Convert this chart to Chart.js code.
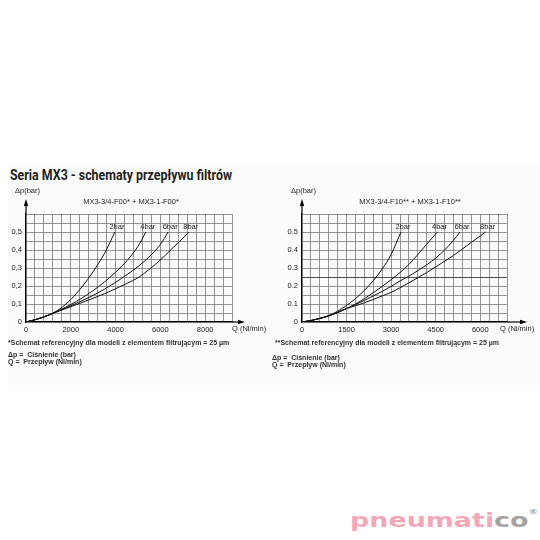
<!DOCTYPE html>
<html>
<head>
<meta charset="utf-8">
<script src="https://cdn.jsdelivr.net/npm/chart.js@4"></script>
<style>
  body { margin: 0; width: 540px; height: 540px; background: #fff; position: relative; overflow: hidden; font-family: "Liberation Sans", Arial, sans-serif; }
  .abs { position: absolute; white-space: nowrap; }
  #band { left: 8px; top: 163px; width: 532px; height: 222px; background: #fbfbfc; }
  #title { left: 10px; top: 166px; font: bold 15px Roboto, sans-serif; color: #1e1e1e; transform-origin: 0 0; }
  .note { font: bold 7px "Liberation Sans Narrow", "Liberation Sans", sans-serif; color: #333; }
  canvas { position: absolute; }
  #logo { left: 350px; top: 508px; font: bold 20px "DejaVu Sans", sans-serif; transform-origin: 0 0; }
</style>
</head>
<body>
<div id="band" class="abs"></div>
<div id="title" class="abs">Seria MX3 - schematy przepływu filtrów</div>
<canvas id="wykresIzq" width="270" height="170" style="left:0;top:180px"></canvas>
<canvas id="wykresDer" width="270" height="170" style="left:270px;top:180px"></canvas>

<div class="abs note" style="left:8px;top:339px">*Schemat referencyjny dla modeli z elementem filtrującym = 25 µm</div>
<div class="abs note" style="left:8px;top:351px">Δp =&nbsp; Ciśnienie (bar)</div>
<div class="abs note" style="left:8px;top:358px">Q =&nbsp; Przepływ (Nl/min)</div>
<div class="abs note" style="left:275px;top:339px">**Schemat referencyjny dla modeli z elementem filtrującym = 25 µm</div>
<div class="abs note" style="left:272px;top:354px">Δp =&nbsp; Ciśnienie (bar)</div>
<div class="abs note" style="left:272px;top:361px">Q =&nbsp; Przepływ (Nl/min)</div>

<div id="logo" class="abs"><span style="color:#f4a7b7">pneumati</span><span style="color:#a3a3a3">co</span><span style="color:#a3a3a3;font-size:7px;vertical-align:top">®</span></div>

<script>
// etykiety krzywych
const etiquetas = ["2bar", "4bar", "6bar", "8bar"];

// wykres lewy: MX3-3/4-F00* + MX3-1-F00*
const izqTicksX = [0, 2000, 4000, 6000, 8000];
const izqQ2 = [0, 500, 1000, 1500, 2000, 2500, 3000, 3500, 3970];
const izqDp2 = [0, 0.016, 0.038, 0.072, 0.125, 0.195, 0.28, 0.38, 0.5];
const izqQ4 = [0, 500, 1000, 1500, 2000, 2500, 3000, 3500, 4000, 4500, 5000, 5350];
const izqDp4 = [0, 0.016, 0.038, 0.066, 0.097, 0.133, 0.175, 0.222, 0.277, 0.34, 0.42, 0.5];
const izqQ6 = [0, 500, 1000, 1500, 2000, 2500, 3000, 3500, 4000, 4500, 5000, 5500, 6000, 6350];
const izqDp6 = [0, 0.016, 0.038, 0.064, 0.09, 0.118, 0.148, 0.182, 0.22, 0.262, 0.308, 0.362, 0.43, 0.5];
const izqQ8 = [0, 500, 1000, 1500, 2000, 2500, 3000, 3500, 4000, 4500, 5000, 5500, 6000, 6500, 7000, 7270];
const izqDp8 = [0, 0.016, 0.038, 0.062, 0.085, 0.108, 0.132, 0.157, 0.185, 0.214, 0.246, 0.292, 0.345, 0.405, 0.465, 0.5];

// wykres prawy: MX3-3/4-F10** + MX3-1-F10**
const derTicksX = [0, 1500, 3000, 4500, 6000];
const derQ2 = [0, 300, 600, 900, 1200, 1500, 1800, 2100, 2400, 2700, 3000, 3330];
const derDp2 = [0, 0.008, 0.02, 0.036, 0.06, 0.092, 0.13, 0.176, 0.23, 0.295, 0.375, 0.5];
const derQ4 = [0, 300, 600, 900, 1200, 1500, 1800, 2100, 2400, 2700, 3000, 3300, 3600, 3900, 4200, 4500, 4560];
const derDp4 = [0, 0.008, 0.02, 0.034, 0.053, 0.075, 0.1, 0.13, 0.163, 0.198, 0.235, 0.275, 0.32, 0.375, 0.432, 0.49, 0.5];
const derQ6 = [0, 300, 600, 900, 1200, 1500, 1800, 2100, 2400, 2700, 3000, 3300, 3600, 3900, 4200, 4500, 4800, 5100, 5320];
const derDp6 = [0, 0.008, 0.02, 0.034, 0.053, 0.075, 0.097, 0.12, 0.145, 0.17, 0.198, 0.228, 0.255, 0.285, 0.318, 0.355, 0.4, 0.455, 0.5];
const derQ8 = [0, 300, 600, 900, 1200, 1500, 1800, 2100, 2400, 2700, 3000, 3300, 3600, 3900, 4200, 4500, 4800, 5100, 5400, 5700, 6000, 6180];
const derDp8 = [0, 0.008, 0.02, 0.034, 0.053, 0.075, 0.09, 0.107, 0.125, 0.145, 0.165, 0.19, 0.218, 0.246, 0.275, 0.306, 0.338, 0.37, 0.405, 0.443, 0.478, 0.5];

const fuenteCad = '"Liberation Sans Narrow", "Liberation Sans", sans-serif';

function puntos(qs, dps) {
  return qs.map((q, i) => ({ x: q, y: dps[i] }));
}

function flecha(ctx, x1, y1, x2, y2) {
  const ang = Math.atan2(y2 - y1, x2 - x1);
  ctx.beginPath();
  ctx.moveTo(x1, y1);
  ctx.lineTo(x2 - 5 * Math.cos(ang), y2 - 5 * Math.sin(ang));
  ctx.stroke();
  ctx.beginPath();
  ctx.moveTo(x2, y2);
  ctx.lineTo(x2 - 7 * Math.cos(ang) + 2.2 * Math.sin(ang), y2 - 7 * Math.sin(ang) - 2.2 * Math.cos(ang));
  ctx.lineTo(x2 - 7 * Math.cos(ang) - 2.2 * Math.sin(ang), y2 - 7 * Math.sin(ang) + 2.2 * Math.cos(ang));
  ctx.closePath();
  ctx.fill();
}

const decoracion = {
  id: "decoracion",
  afterDraw(chart, args, o) {
    const { ctx, chartArea: a } = chart;
    ctx.save();
    ctx.strokeStyle = "#000";
    ctx.fillStyle = "#000";
    ctx.lineWidth = 1.2;
    flecha(ctx, a.left, a.top, a.left, a.top - 15);
    flecha(ctx, a.right, a.bottom, a.right + o.flechaX, a.bottom);

    ctx.fillStyle = "#222";
    ctx.font = "7.5px " + fuenteCad;
    ctx.textBaseline = "middle";
    ctx.textAlign = "left";
    ctx.fillText("Δp(bar)", a.left - 11, a.top - 23);
    ctx.fillText("Q (Nl/min)", a.right + o.qX, a.bottom + 7);
    ctx.textAlign = "center";
    ctx.fillText(o.subtitulo, o.subX, a.top - 12);

    ctx.textBaseline = "bottom";
    chart.data.datasets.forEach((ds) => {
      const p = ds.data[ds.data.length - 1];
      const x = chart.scales.x.getPixelForValue(p.x);
      const y = chart.scales.y.getPixelForValue(p.y);
      ctx.fillText(ds.label, x + 2, y - 1);
    });
    ctx.restore();
  }
};

function crearGrafico(id, series, ticksX, paso, maxX, sep, cfg) {
  const datasets = series.map((s, i) => ({
    label: etiquetas[i],
    data: puntos(s[0], s[1]),
    borderColor: "#111",
    borderWidth: 1,
    pointRadius: 0,
    cubicInterpolationMode: "monotone",
    fill: false
  }));

  const fuerte = (c) => cfg.lineaFuerte && Math.round(c.tick.value * 100) === 25;

  return new Chart(document.getElementById(id), {
    type: "line",
    data: { datasets: datasets },
    plugins: [decoracion],
    options: {
      responsive: false,
      animation: false,
      devicePixelRatio: 1,
      layout: { padding: { left: 0, top: 34, right: cfg.derecha, bottom: 0 } },
      plugins: {
        legend: { display: false },
        tooltip: { enabled: false },
        decoracion: cfg
      },
      scales: {
        x: {
          type: "linear",
          min: 0,
          max: maxX,
          afterFit: (s) => { s.height = 28; },
          grid: { color: "#737373", lineWidth: 0.75, drawTicks: false },
          border: { display: true, color: "#000", width: 1.2 },
          ticks: {
            stepSize: paso,
            autoSkip: false,
            maxRotation: 0,
            maxTicksLimit: 100,
            padding: 3,
            color: "#222",
            font: { family: fuenteCad, size: 7.5 },
            callback: (v) => (ticksX.includes(v) ? String(v) : "")
          }
        },
        y: {
          min: 0,
          max: 0.6,
          afterFit: (s) => { s.width = cfg.izquierda; },
          grid: {
            drawTicks: false,
            color: (c) => (fuerte(c) ? "#3a3a3a" : "#737373"),
            lineWidth: (c) => (fuerte(c) ? 0.9 : 0.75)
          },
          border: { display: true, color: "#000", width: 1.2 },
          ticks: {
            stepSize: 0.05,
            autoSkip: false,
            padding: 4,
            color: "#222",
            font: { family: fuenteCad, size: 7.5 },
            callback: (v) => {
              const r = Math.round(v * 100);
              if (r % 10 !== 0 || r === 60) return "";
              return r === 0 ? "0" : "0" + sep + r / 10;
            }
          }
        }
      }
    }
  });
}

crearGrafico("wykresIzq",
  [[izqQ2, izqDp2], [izqQ4, izqDp4], [izqQ6, izqDp6], [izqQ8, izqDp8]],
  izqTicksX, 400, 9200, ",",
  { izquierda: 26, derecha: 38, flechaX: 13, qX: 0, subX: 131, subtitulo: "MX3-3/4-F00* + MX3-1-F00*", lineaFuerte: false });

crearGrafico("wykresDer",
  [[derQ2, derDp2], [derQ4, derDp4], [derQ6, derDp6], [derQ8, derDp8]],
  derTicksX, 300, 6900, ".",
  { izquierda: 32, derecha: 33, flechaX: 20, qX: -7, subX: 140, subtitulo: "MX3-3/4-F10** + MX3-1-F10**", lineaFuerte: true });

// dopasowanie szerokości tytułu i logo
function ajustar(id, ancho) {
  const el = document.getElementById(id);
  const w = el.getBoundingClientRect().width;
  el.style.transform = "scaleX(" + (ancho / w) + ")";
}
ajustar("title", 222);
ajustar("logo", 188);
</script>
</body>
</html>
